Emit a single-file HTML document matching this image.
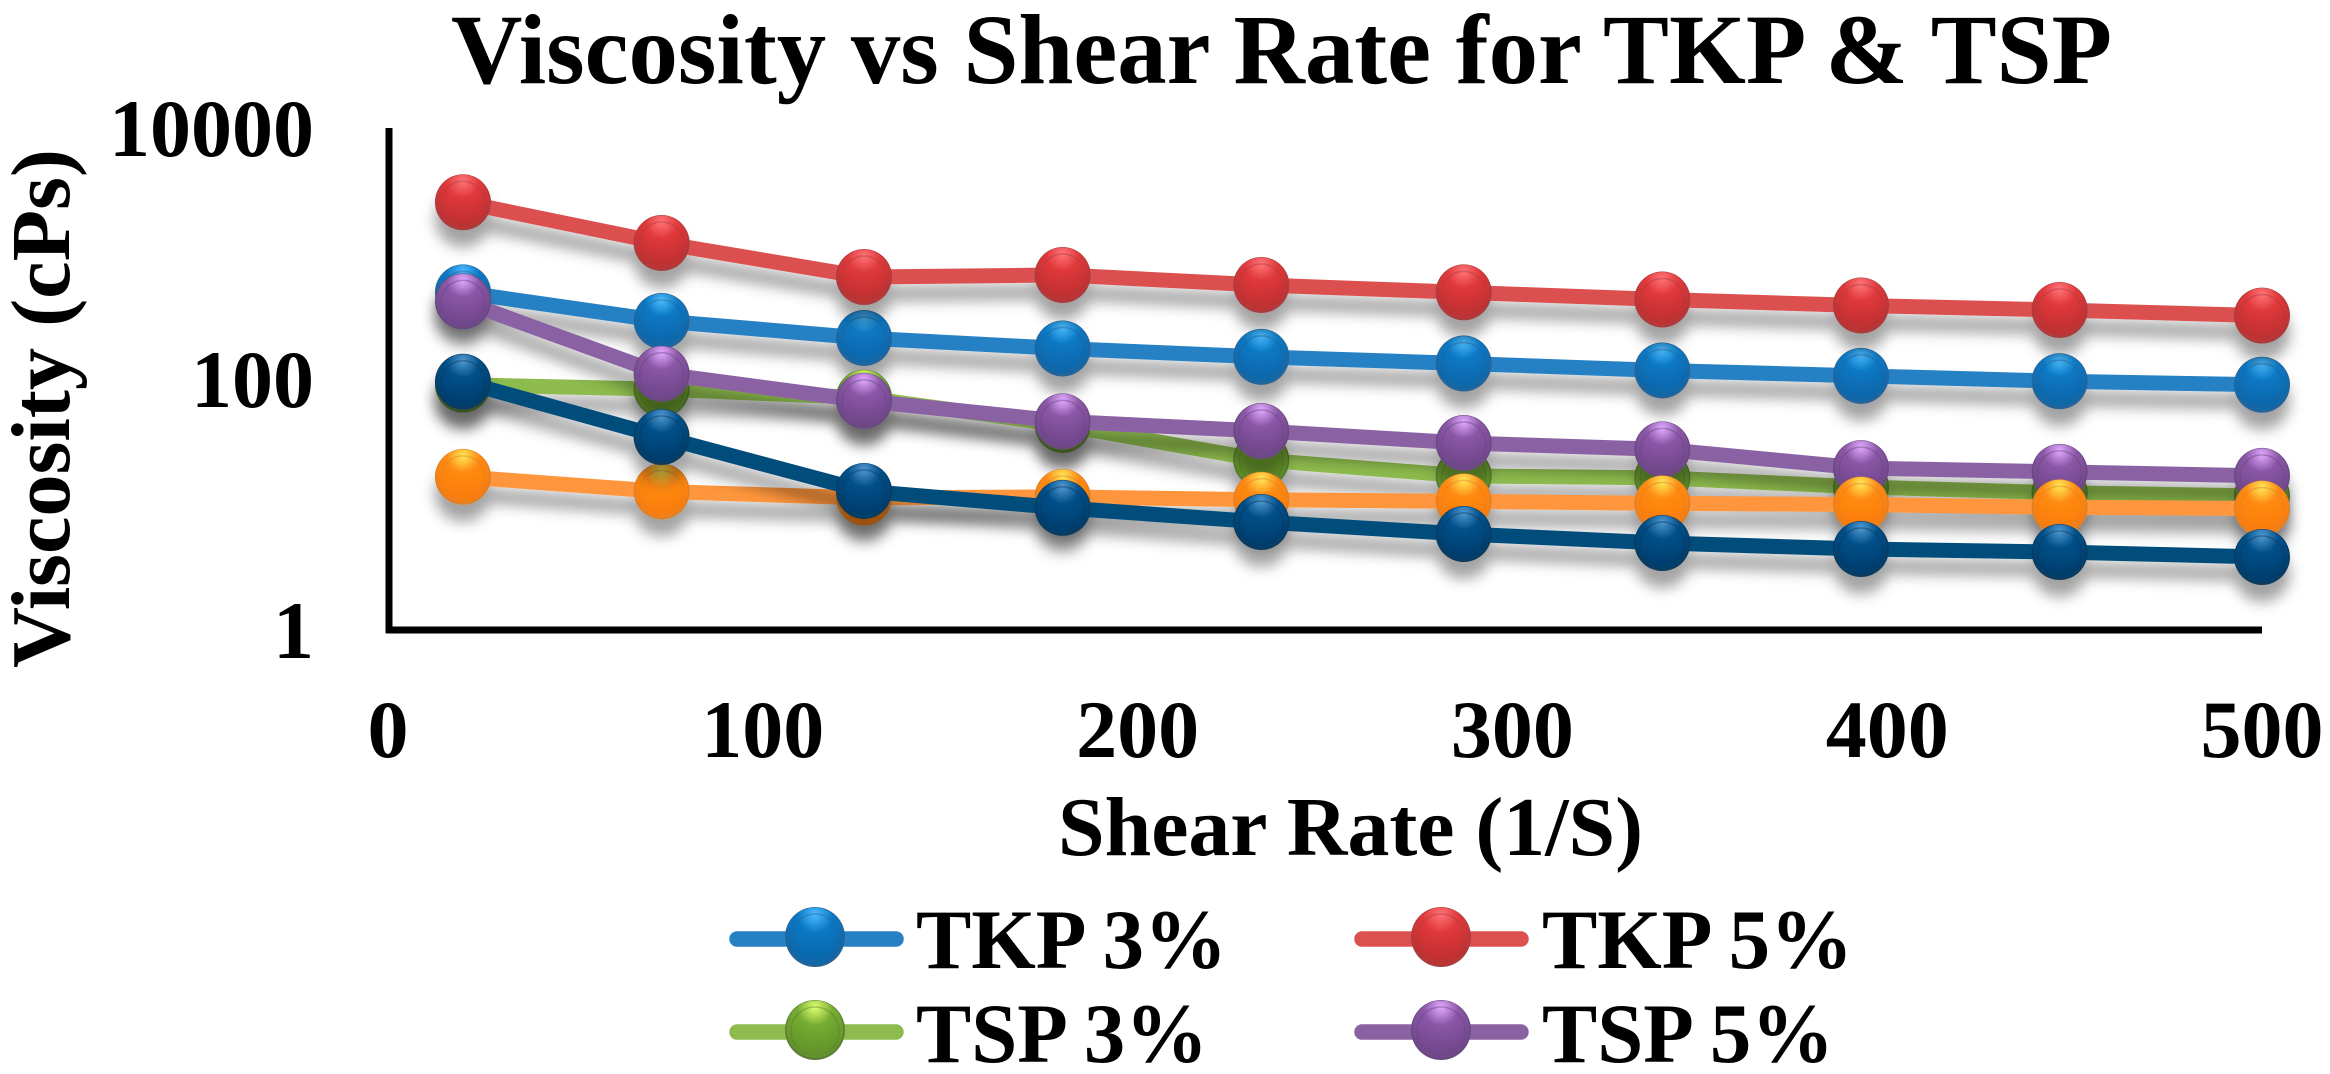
<!DOCTYPE html>
<html lang="en">
<head>
<meta charset="utf-8">
<title>Viscosity vs Shear Rate for TKP &amp; TSP</title>
<style>
html,body{margin:0;padding:0;background:#fff;width:2330px;height:1074px;overflow:hidden}
svg{display:block}
text{font-family:"Liberation Serif",serif;font-weight:700;fill:#000}
</style>
</head>
<body>
<svg id="chart" xmlns="http://www.w3.org/2000/svg" width="2330" height="1074" viewBox="0 0 2330 1074">
  <defs id="defs">
    <filter id="shadow" filterUnits="userSpaceOnUse" x="300" y="100" width="2030" height="620">
      <feDropShadow dx="0" dy="17" stdDeviation="7" flood-color="#000" flood-opacity="0.36"/>
    </filter>
  </defs>
  <text x="451" y="83" font-size="100" textLength="1661" lengthAdjust="spacingAndGlyphs">Viscosity vs Shear Rate for TKP &amp; TSP</text>
  <text transform="translate(69 668) rotate(-90)" x="0" y="0" font-size="84" textLength="519" lengthAdjust="spacingAndGlyphs">Viscosity (cPs)</text>
  <text x="1058" y="855" font-size="84" textLength="585" lengthAdjust="spacingAndGlyphs">Shear Rate (1/S)</text>
  <g id="series-layer"></g>
  <line x1="389" y1="128" x2="389" y2="633" stroke="#000" stroke-width="7"/>
  <line x1="386" y1="630" x2="2262" y2="630" stroke="#000" stroke-width="7"/>
  <g id="y-ticks"></g>
  <g id="x-ticks"></g>
  <g id="legend"></g>
</svg>
<script>
const shearRates = [20, 73, 127, 180, 233, 287, 340, 393, 446, 500];
const tkp3 = [490, 290, 212, 175, 150, 133, 117, 106, 96, 90];
const tkp5 = [2560, 1212, 650, 674, 561, 490, 430, 385, 355, 320];
const tsp3 = [90, 83, 71, 43, 22.6, 16.9, 16.3, 13.8, 12.4, 11.7];
const tsp5 = [415, 110, 67, 46, 38.5, 30.9, 27.5, 19.5, 18.2, 16.9];
const orangeSeries = [16.6, 12.7, 11.3, 11.5, 10.9, 10.6, 10.2, 10, 9.5, 9.3];
const navySeries = [95, 34.5, 12.8, 9.4, 7.26, 5.82, 4.93, 4.42, 4.18, 3.82];
const xTicks = [0, 100, 200, 300, 400, 500];
const yTicks = [1, 100, 10000];

const NS = 'http://www.w3.org/2000/svg';
function xScale(v) { return 388 + (2262 - 388) * v / 500; }
function yScale(v) { return 630 - 502 * Math.log10(v) / 4; }
function make(tag, attrs, parent) {
  const el = document.createElementNS(NS, tag);
  for (const k in attrs) el.setAttribute(k, attrs[k]);
  parent.appendChild(el);
  return el;
}

const styles = {
  blue:   {line:'#2581c4', hi:'#4cbcff', mid:'#0a78c4', low:'#0a68ac', rim:'#2a6496'},
  red:    {line:'#dc5050', hi:'#ff7478', mid:'#e0383a', low:'#c23032', rim:'#a83e40'},
  green:  {line:'#8dbb4e', hi:'#e0ff70', mid:'#76ac32', low:'#64952a', rim:'#5b7f35'},
  purple: {line:'#8a62a4', hi:'#e2aaff', mid:'#8a56a6', low:'#73488e', rim:'#694a80'},
  orange: {line:'#ff963c', hi:'#ffe856', mid:'#ff8a12', low:'#fb7d0c', rim:'#d9822e'},
  navy:   {line:'#024d7c', hi:'#5098d2', mid:'#02508a', low:'#013f70', rim:'#0d3a5c'}
};
const defs = document.getElementById('defs');
for (const key in styles) {
  const s = styles[key];
  const g = make('radialGradient', {id:'ball-' + key, cx:'0.5', cy:'0.14', r:'0.74', fx:'0.5', fy:'0.12'}, defs);
  make('stop', {offset:'0', 'stop-color':s.hi}, g);
  make('stop', {offset:'0.42', 'stop-color':s.mid}, g);
  make('stop', {offset:'1', 'stop-color':s.low}, g);
}

function drawMarker(parent, cx, cy, r, key) {
  const s = styles[key];
  make('circle', {cx:cx, cy:cy, r:r, fill:s.rim}, parent);
  make('circle', {cx:cx, cy:cy - 1, r:r - 1.5, fill:'url(#ball-' + key + ')'}, parent);
  make('circle', {cx:cx, cy:cy + 1, r:r - 6, fill:'none', stroke:s.rim, 'stroke-width':1.5, 'stroke-opacity':0.45}, parent);
}

const seriesList = [
  {name:'tkp-3-series', key:'blue', values:tkp3},
  {name:'tkp-5-series', key:'red', values:tkp5},
  {name:'tsp-3-series', key:'green', values:tsp3},
  {name:'tsp-5-series', key:'purple', values:tsp5},
  {name:'orange-series', key:'orange', values:orangeSeries},
  {name:'navy-series', key:'navy', values:navySeries}
];
const layer = document.getElementById('series-layer');
seriesList.forEach(function (series) {
  const g = make('g', {filter:'url(#shadow)'}, layer);
  
  
  const pts = series.values.map(function (v, i) { return xScale(shearRates[i]) + ',' + yScale(v); }).join(' ');
  const line = make('polyline', {points:pts, fill:'none', stroke:styles[series.key].line, 'stroke-width':15, 'stroke-linejoin':'round'}, g);
  
  
  series.values.forEach(function (v, i) {
    const m = make('g', {}, g);
    
    
    drawMarker(m, xScale(shearRates[i]), yScale(v), 28, series.key);
  });
});

const yTickGroup = document.getElementById('y-ticks');
yTicks.forEach(function (t) {
  const el = make('text', {x:314, y:yScale(t) + 28, 'font-size':82, 'text-anchor':'end'}, yTickGroup);
  
  
  el.textContent = String(t);
});
const xTickGroup = document.getElementById('x-ticks');
xTicks.forEach(function (t) {
  const el = make('text', {x:xScale(t), y:757, 'font-size':82, 'text-anchor':'middle'}, xTickGroup);
  
  
  el.textContent = String(t);
});

const legendEntries = ['TKP 3%', 'TKP 5%', 'TSP 3%', 'TSP 5%'];
const legendKeys = ['blue', 'red', 'green', 'purple'];
const legendColumns = [{lineX:737, markerX:815, textX:916}, {lineX:1362, markerX:1441, textX:1542}];
const legendRows = [{lineY:939, markerY:937, baseY:968}, {lineY:1032, markerY:1030, baseY:1062}];
const legendGroup = document.getElementById('legend');
legendEntries.forEach(function (label, i) {
  const col = legendColumns[i % 2];
  const row = legendRows[Math.floor(i / 2)];
  const g = make('g', {}, legendGroup);
  
  
  make('line', {x1:col.lineX, y1:row.lineY, x2:col.lineX + 159, y2:row.lineY, stroke:styles[legendKeys[i]].line, 'stroke-width':15.5, 'stroke-linecap':'round'}, g);
  drawMarker(g, col.markerX, row.markerY, 30, legendKeys[i]);
  const t = make('text', {x:col.textX, y:row.baseY, 'font-size':85, textLength:(i < 2 ? 311 : 292), lengthAdjust:'spacingAndGlyphs'}, g);
  
  
  t.textContent = label;
});
</script>
</body>
</html>
